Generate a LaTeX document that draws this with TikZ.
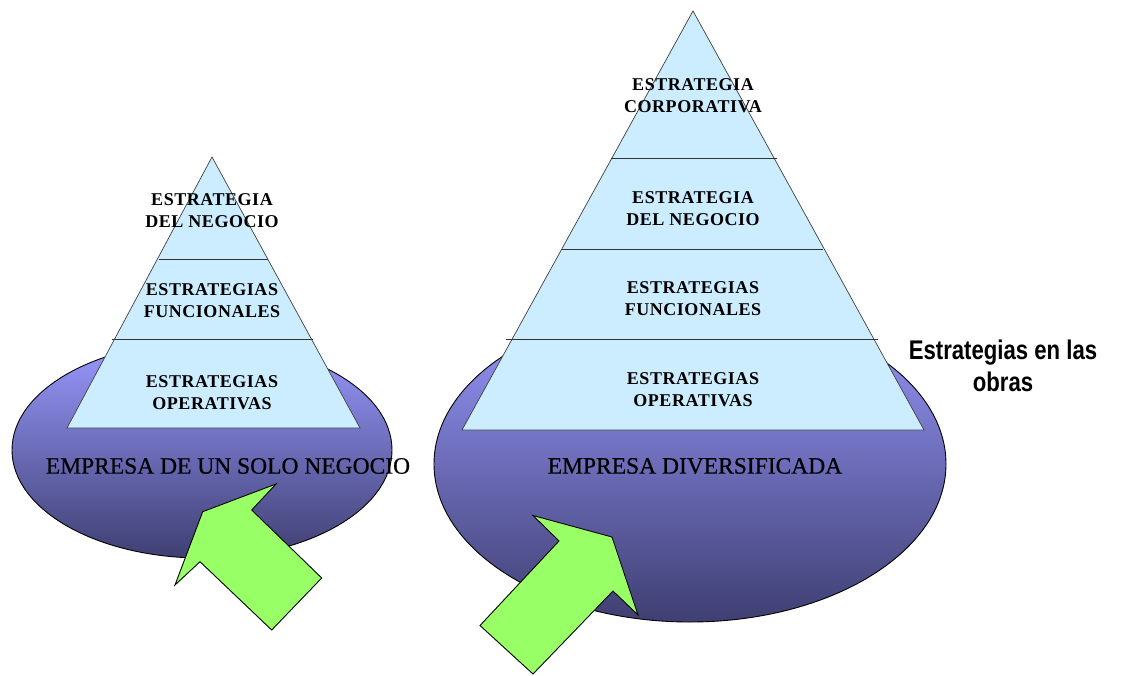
\documentclass[tikz,border=0pt]{standalone}
\usepackage{fontspec}
\setmainfont{Liberation Serif}
\newfontfamily\pyrfont[LetterSpace=3]{Liberation Serif}
\newfontfamily\empfont[FakeBold=0.6]{Liberation Serif}
\newfontfamily\titlefont[FakeStretch=0.82]{Liberation Sans}
\usetikzlibrary{shapes.geometric}
\definecolor{pyrblue}{HTML}{CCECFF}
\definecolor{elltop}{HTML}{9999FF}
\definecolor{ellbot}{HTML}{3F3F72}
\definecolor{arrgreen}{HTML}{99FF66}
\begin{document}
\begin{tikzpicture}[x=1pt,y=1pt,
  base/.style={ellipse, draw=black, line width=0.9pt, top color=elltop, bottom color=ellbot, inner sep=0pt},
  pyr/.style={fill=pyrblue, draw=black!75, line width=0.7pt},
  divider/.style={draw=black!80, line width=0.8pt},
  pyrtext/.style={font=\pyrfont\bfseries\fontsize{18}{22}\selectfont, align=center, inner sep=0pt, text=black},
  basetext/.style={font=\empfont\fontsize{23.5}{26}\selectfont, inner sep=0pt, text=black},
  greenarrow/.style={fill=arrgreen, draw=black, line width=0.9pt, line join=miter}]
\useasboundingbox (0,0) rectangle (1140,-675);
\fill[white] (0,0) rectangle (1140,-675);
% ---------- left ----------
\node[base, minimum width=380pt, minimum height=216pt] (ell1) at (202,-450) {};
\path[pyr] (212,-157) -- (360,-428) -- (67,-428) -- cycle;
\coordinate (l1a) at (159,-259); \coordinate (l1b) at (268,-259);
\coordinate (l2a) at (112,-339); \coordinate (l2b) at (313,-339);
\draw[divider] (l1a) -- (l1b);
\draw[divider] (l2a) -- (l2b);
\node[pyrtext] (lt1) at (212,-211) {ESTRATEGIA\\DEL NEGOCIO};
\node[pyrtext] (lt2) at (212,-301) {ESTRATEGIAS\\FUNCIONALES};
\node[pyrtext] (lt3) at (212,-393) {ESTRATEGIAS\\OPERATIVAS};
\node[basetext] (lbase) at (228,-466) {EMPRESA DE UN SOLO NEGOCIO};
\path[greenarrow] (276,-484) -- (251.7,-510) -- (321.7,-578) -- (271.7,-630) -- (200,-561.7) -- (175,-585) -- (202.7,-511.7) -- cycle;
% ---------- right ----------
\node[base, minimum width=512pt, minimum height=316pt] (ell2) at (690,-464) {};
\path[pyr] (693,-11) -- (924,-430) -- (462,-430) -- cycle;
\coordinate (r1a) at (611,-158); \coordinate (r1b) at (777,-158);
\coordinate (r2a) at (562,-249); \coordinate (r2b) at (823,-249);
\coordinate (r3a) at (506,-339); \coordinate (r3b) at (878,-339);
\draw[divider] (r1a) -- (r1b);
\draw[divider] (r2a) -- (r2b);
\draw[divider] (r3a) -- (r3b);
\node[pyrtext] (rt0) at (693,-96) {ESTRATEGIA\\CORPORATIVA};
\node[pyrtext] (rt1) at (693,-209) {ESTRATEGIA\\DEL NEGOCIO};
\node[pyrtext] (rt2) at (693,-299) {ESTRATEGIAS\\FUNCIONALES};
\node[pyrtext] (rt3) at (693,-390) {ESTRATEGIAS\\OPERATIVAS};
\node[basetext] (rbase) at (695,-466) {EMPRESA DIVERSIFICADA};
\path[greenarrow] (533,-515.5) -- (612,-537) -- (638,-615) -- (613,-591) -- (533,-674) -- (480,-625.5) -- (559,-541) -- cycle;
% ---------- caption ----------
\node[font=\titlefont\bfseries\fontsize{27}{32}\selectfont, align=center, inner sep=0pt] (cap) at (1003,-366) {Estrategias en las\\obras};
\end{tikzpicture}
\end{document}
